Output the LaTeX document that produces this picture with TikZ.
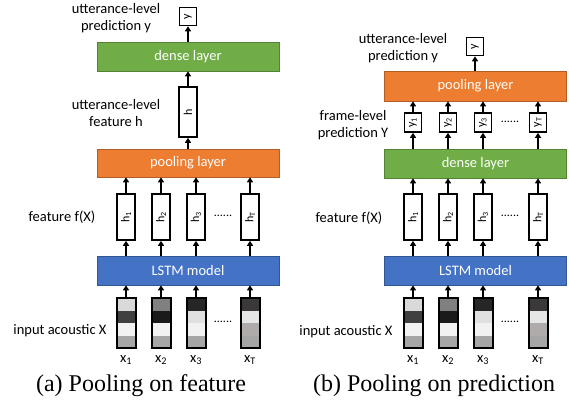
\documentclass[tikz,border=0pt]{standalone}
\usepackage{fontspec}
\setmainfont{Carlito}
\newfontfamily\capfont{Liberation Serif}
\usetikzlibrary{arrows.meta,calc}
\definecolor{cgreen}{HTML}{70AD47}
\definecolor{corange}{HTML}{ED7D31}
\definecolor{cblue}{HTML}{4472C4}
\definecolor{gA}{HTML}{D9D9D9}
\definecolor{gB}{HTML}{3F3F3F}
\definecolor{gC}{HTML}{F2F2F2}
\definecolor{gD}{HTML}{A6A6A6}
\definecolor{gE}{HTML}{808080}
\definecolor{gF}{HTML}{1A1A1A}
\definecolor{gG}{HTML}{262626}
\definecolor{gH}{HTML}{E0E0E0}
\definecolor{gI}{HTML}{3A3838}
\definecolor{gJ}{HTML}{E7E6E6}
\definecolor{gK}{HTML}{AFABAB}
\tikzset{
  layer/.style={rectangle, fill=#1, draw=#1!75!black, line width=0.6pt, minimum width=182pt, minimum height=29pt, inner sep=0pt, text=white},
  hbox/.style={rectangle, draw, line width=1.6pt, fill=white, minimum width=18pt, minimum height=46pt, inner sep=0pt, font=\fontsize{12}{14}\selectfont},
  ybox/.style={rectangle, draw, line width=1.6pt, fill=white, minimum width=17pt, minimum height=18pt, inner sep=0pt, font=\fontsize{12}{14}\selectfont},
  inbox/.style n args={4}{rectangle, draw, line width=2pt, minimum width=19pt, minimum height=50pt, inner sep=0pt,
    path picture={
      \path (path picture bounding box.north west) coordinate (p1) (path picture bounding box.south east) coordinate (p2);
      \fill[#1] (p1) rectangle ($(p1 -| p2)!0.25!(p2)$);
      \fill[#2] ($(p1)!0.25!(p1 |- p2)$) rectangle ($(p1 -| p2)!0.5!(p2)$);
      \fill[#3] ($(p1)!0.5!(p1 |- p2)$) rectangle ($(p1 -| p2)!0.75!(p2)$);
      \fill[#4] ($(p1)!0.75!(p1 |- p2)$) rectangle (p2);
    }},
  arr/.style={-{Stealth[length=5pt,width=6pt,inset=0pt]}, line width=1.6pt},
  lbl/.style={align=center, inner sep=0pt},
  dots/.style={inner sep=0pt, font=\fontsize{12}{14}\selectfont},
  captext/.style={inner sep=0pt, font=\capfont\fontsize{24}{27}\selectfont}
}
\begin{document}
\begin{tikzpicture}[x=1pt, y=-1pt, font=\fontsize{14.5}{17}\selectfont]
\useasboundingbox (0,0) rectangle (569,410);
% ---------- panel (a)
\node[ybox] (ya) at (188,16.5) {\rotatebox{90}{y}};
\node[layer=cgreen] (densea) at (188,56.5) {dense layer};
\node[hbox, minimum height=50pt] (ha) at (188,112) {\rotatebox{90}{h}};
\node[layer=corange, minimum height=28pt] (poola) at (188,163) {pooling layer};
\node[hbox] (ha1) at (126,217) {\rotatebox{90}{h\textsubscript{1}}};
\node[hbox] (ha2) at (161,217) {\rotatebox{90}{h\textsubscript{2}}};
\node[hbox] (ha3) at (196,217) {\rotatebox{90}{h\textsubscript{3}}};
\node[hbox] (haT) at (250,217) {\rotatebox{90}{h\textsubscript{T}}};
\node[dots] (da1) at (223,216) {......};
\node[layer=cblue] (lstma) at (188,270.5) {LSTM model};
\node[inbox={gA}{gB}{gC}{gD}] (xa1) at (126,323) {};
\node[inbox={gE}{gF}{gC}{gD}] (xa2) at (161,323) {};
\node[inbox={gG}{gH}{gC}{gD}] (xa3) at (196,323) {};
\node[inbox={gI}{gJ}{gK}{gD}] (xaT) at (250,323) {};
\node[dots] (da2) at (223,322) {......};
\node[lbl] (lxa1) at (126,360) {x\textsubscript{1}};
\node[lbl] (lxa2) at (161,360) {x\textsubscript{2}};
\node[lbl] (lxa3) at (196,360) {x\textsubscript{3}};
\node[lbl] (lxaT) at (250,360) {x\textsubscript{T}};
\node[lbl] (ta1) at (116,18.5) {utterance-level\\prediction y};
\node[lbl] (ta2) at (116,113.5) {utterance-level\\feature h};
\node[lbl] (ta3) at (62,217) {feature f(X)};
\node[lbl] (ta4) at (60,331) {input acoustic X};
\node[captext] (capa) at (141,386) {(a) Pooling on feature};
\draw[arr] (densea.north -| ya) -- (ya.south);
\draw[arr] (ha.north) -- (densea.south -| ha);
\draw[arr] (poola.north -| ha) -- (ha.south);
\foreach \i in {1,2,3,T}{
  \draw[arr] (ha\i.north) -- (poola.south -| ha\i);
  \draw[arr] (lstma.north -| ha\i) -- (ha\i.south);
  \draw[arr] (xa\i.north) -- (lstma.south -| xa\i);
}
% ---------- panel (b)
\node[ybox] (yb) at (475,46.5) {\rotatebox{90}{y}};
\node[layer=corange, minimum height=30pt] (poolb) at (475.5,86) {pooling layer};
\node[ybox, minimum height=19pt] (yb1) at (413,122.5) {\rotatebox{90}{y\textsubscript{1}}};
\node[ybox, minimum height=19pt] (yb2) at (448,122.5) {\rotatebox{90}{y\textsubscript{2}}};
\node[ybox, minimum height=19pt] (yb3) at (483,122.5) {\rotatebox{90}{y\textsubscript{3}}};
\node[ybox, minimum height=19pt] (ybT) at (538,122.5) {\rotatebox{90}{y\textsubscript{T}}};
\node[dots] (db0) at (510,122) {......};
\node[layer=cgreen] (denseb) at (475.5,163.5) {dense layer};
\node[hbox] (hb1) at (413,217) {\rotatebox{90}{h\textsubscript{1}}};
\node[hbox] (hb2) at (448,217) {\rotatebox{90}{h\textsubscript{2}}};
\node[hbox] (hb3) at (483,217) {\rotatebox{90}{h\textsubscript{3}}};
\node[hbox] (hbT) at (538,217) {\rotatebox{90}{h\textsubscript{T}}};
\node[dots] (db1) at (510,216) {......};
\node[layer=cblue] (lstmb) at (475.5,270.5) {LSTM model};
\node[inbox={gA}{gB}{gC}{gD}] (xb1) at (413,323) {};
\node[inbox={gE}{gF}{gC}{gD}] (xb2) at (448,323) {};
\node[inbox={gG}{gH}{gC}{gD}] (xb3) at (483,323) {};
\node[inbox={gI}{gJ}{gK}{gD}] (xbT) at (538,323) {};
\node[dots] (db2) at (510,322) {......};
\node[lbl] (lxb1) at (413,360) {x\textsubscript{1}};
\node[lbl] (lxb2) at (448,360) {x\textsubscript{2}};
\node[lbl] (lxb3) at (483,360) {x\textsubscript{3}};
\node[lbl] (lxbT) at (538,360) {x\textsubscript{T}};
\node[lbl] (tb1) at (403,48.5) {utterance-level\\prediction y};
\node[lbl] (tb2) at (353,125) {frame-level\\prediction Y};
\node[lbl] (tb3) at (349,218) {feature f(X)};
\node[lbl] (tb4) at (346,332) {input acoustic X};
\node[captext] (capb) at (434,386) {(b) Pooling on prediction};
\draw[arr] (poolb.north -| yb) -- (yb.south);
\foreach \i in {1,2,3,T}{
  \draw[arr] (yb\i.north) -- (poolb.south -| yb\i);
  \draw[arr] (denseb.north -| yb\i) -- (yb\i.south);
  \draw[arr] (hb\i.north) -- (denseb.south -| hb\i);
  \draw[arr] (lstmb.north -| hb\i) -- (hb\i.south);
  \draw[arr] (xb\i.north) -- (lstmb.south -| xb\i);
}
\end{tikzpicture}
\end{document}
